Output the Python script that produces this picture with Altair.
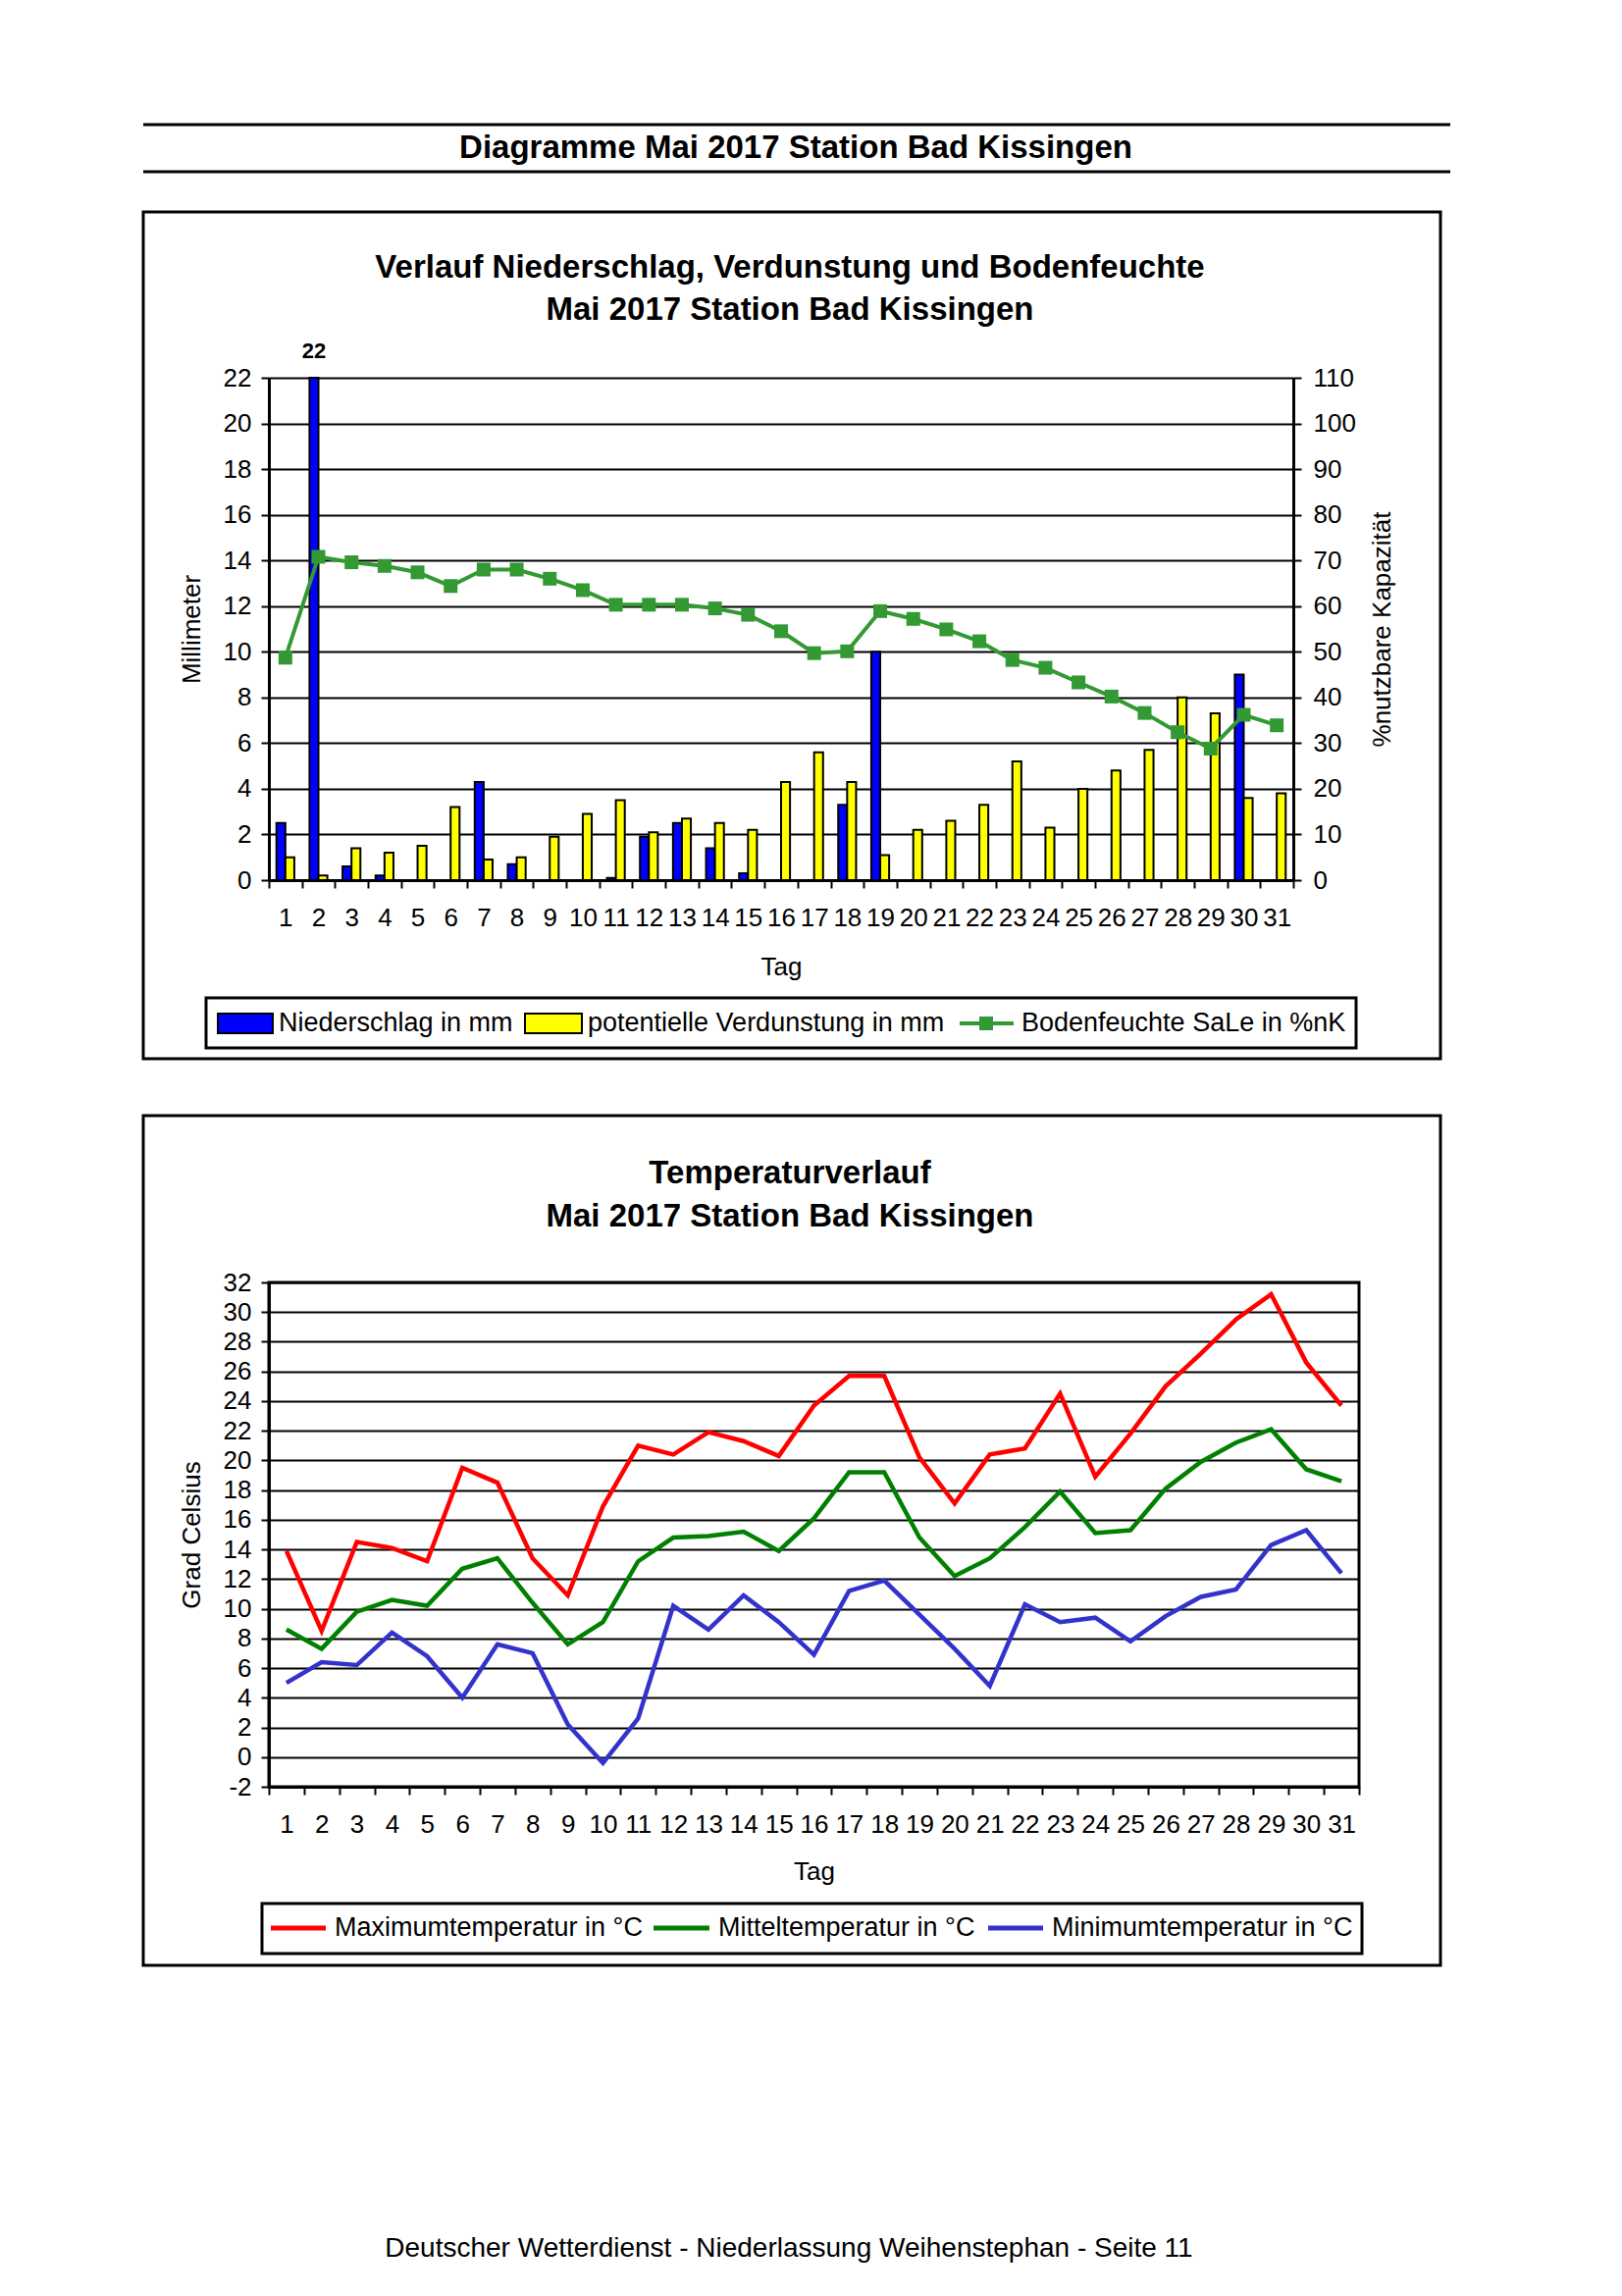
import altair as alt
import pandas as pd

FONT = "Liberation Sans"

# ---------------- data ----------------
days = list(range(1, 32))
niederschlag = [2.5, 22.0, 0.6, 0.2, 0.0, 0.0, 4.3, 0.7, 0.0, 0.0, 0.1, 1.9, 2.5, 1.4, 0.3, 0.0,
                0.0, 3.3, 10.0, 0.0, 0.0, 0.0, 0.0, 0.0, 0.0, 0.0, 0.0, 0.0, 0.0, 9.0, 0.0]
verdunstung = [1.0, 0.2, 1.4, 1.2, 1.5, 3.2, 0.9, 1.0, 1.9, 2.9, 3.5, 2.1, 2.7, 2.5, 2.2, 4.3,
               5.6, 4.3, 1.1, 2.2, 2.6, 3.3, 5.2, 2.3, 4.0, 4.8, 5.7, 8.0, 7.3, 3.6, 3.8]
bodenfeuchte = [48.7, 70.8, 69.6, 68.8, 67.4, 64.4, 68.0, 68.0, 66.0, 63.5, 60.3, 60.3, 60.3, 59.5,
                58.1, 54.5, 49.7, 50.1, 58.9, 57.2, 54.9, 52.3, 48.2, 46.5, 43.3, 40.2, 36.6, 32.4,
                28.8, 36.2, 33.9]

tmax = [13.9, 8.5, 14.5, 14.1, 13.2, 19.5, 18.5, 13.4, 10.9, 16.9, 21.0, 20.4, 21.9, 21.3, 20.3,
        23.7, 25.7, 25.7, 20.2, 17.1, 20.4, 20.8, 24.5, 18.9, 21.8, 25.0, 27.2, 29.5, 31.2, 26.6, 23.7]
tmit = [8.6, 7.3, 9.8, 10.6, 10.2, 12.7, 13.4, 10.4, 7.6, 9.1, 13.2, 14.8, 14.9, 15.2, 13.9,
        16.1, 19.2, 19.2, 14.8, 12.2, 13.4, 15.5, 17.9, 15.1, 15.3, 18.1, 19.9, 21.2, 22.1, 19.4, 18.6]
tmin = [5.0, 6.4, 6.2, 8.4, 6.8, 4.0, 7.6, 7.0, 2.2, -0.4, 2.6, 10.2, 8.6, 10.9, 9.1,
        6.9, 11.2, 11.9, 9.6, 7.3, 4.8, 10.3, 9.1, 9.4, 7.8, 9.5, 10.8, 11.3, 14.3, 15.3, 12.4]

bar_names = ["Niederschlag in mm", "potentielle Verdunstung in mm"]
soil_name = "Bodenfeuchte SaLe in %nK"
temp_names = ["Maximumtemperatur in °C", "Mitteltemperatur in °C", "Minimumtemperatur in °C"]

left_ticks1 = list(range(0, 23, 2))
right_ticks1 = list(range(0, 111, 10))
ticks2 = list(range(-2, 33, 2))

BLUE, YELLOW, GREEN = "#0000FF", "#FFFF00", "#339933"
TCOLORS = ["#FF0000", "#008000", "#3333CC"]

W1, H1 = 1044, 512
W2, H2 = 1111, 514
TS = 33   # title font size
LS = 27   # legend font size

bars_df = pd.DataFrame({"day": days * 2,
                        "series": [bar_names[0]] * 31 + [bar_names[1]] * 31,
                        "value": niederschlag + verdunstung})
soil_df = pd.DataFrame({"day": days, "value": bodenfeuchte})
peak_df = pd.DataFrame({"day": days, "series": [bar_names[0]] * 31, "value": niederschlag})
temp_df = pd.DataFrame({"day": days * 3,
                        "tseries": sum([[n] * 31 for n in temp_names], []),
                        "value": tmax + tmit + tmin})
one = pd.DataFrame({"k": [0]})


# ---------------- decoration helpers ----------------
def rule(xa, xb, y, color="black", w=3):
    return alt.Chart(one).mark_rule(color=color, strokeWidth=w).encode(
        x=alt.value(xa), x2=alt.value(xb), y=alt.value(y))


def frame(xa, xb, ya, yb, w=3):
    return alt.Chart(one).mark_rect(fillOpacity=0, stroke="black", strokeWidth=w).encode(
        x=alt.value(xa), x2=alt.value(xb), y=alt.value(ya), y2=alt.value(yb))


def swatch(xa, xb, ya, yb, fill):
    return alt.Chart(one).mark_rect(fill=fill, stroke="black", strokeWidth=2).encode(
        x=alt.value(xa), x2=alt.value(xb), y=alt.value(ya), y2=alt.value(yb))


def label(txt, x, y, size=26, weight="normal", align="center"):
    return alt.Chart(one).mark_text(text=txt, fontSize=size, fontWeight=weight, align=align,
                                    baseline="middle", font=FONT, color="black").encode(
        x=alt.value(x), y=alt.value(y))


def marker(x, y, color):
    return alt.Chart(one).mark_point(shape="square", size=196, filled=True, color=color,
                                     opacity=1).encode(x=alt.value(x), y=alt.value(y))


def x_axis(w, ty):
    return alt.Axis(title="Tag", tickBand="extent", labelAngle=0, labelFontSize=26,
                    labelPadding=17, labelColor="black", labelOverlap=False, tickSize=8,
                    tickWidth=2, tickColor="black", domainColor="black", domainWidth=3,
                    grid=False, titleFontSize=26, titleFontWeight="normal", titleColor="black",
                    titleX=w / 2, titleY=ty, titleBaseline="middle", titleAlign="center")


def y_axis(vals, title, orient, tx, h, lp):
    return alt.Axis(values=vals, orient=orient, grid=(orient == "left"), gridColor="black",
                    gridWidth=2, domainColor="black", domainWidth=3, tickColor="black",
                    tickWidth=2, tickSize=8, labelFontSize=26, labelColor="black",
                    labelExpr="'' + datum.value",
                    labelPadding=lp, title=title, titleFontSize=26, titleFontWeight="normal",
                    titleColor="black", titleX=tx, titleY=h / 2, titleAngle=270,
                    titleBaseline="middle", titleAlign="center")


# ---------------- panel 1 ----------------
x1 = alt.X("day:O", scale=alt.Scale(paddingInner=0, paddingOuter=0), axis=x_axis(W1, 88))
xoff = alt.XOffset("series:N", scale=alt.Scale(domain=bar_names, paddingInner=0, paddingOuter=0.85))

bars = alt.Chart(bars_df).mark_bar(stroke="black", strokeWidth=2).encode(
    x=x1,
    xOffset=xoff,
    y=alt.Y("value:Q", scale=alt.Scale(domain=[0, 22], nice=False),
            axis=y_axis(left_ticks1, "Millimeter", "left", -79, H1, 10)),
    color=alt.Color("series:N", scale=alt.Scale(domain=bar_names, range=[BLUE, YELLOW]), legend=None),
)

soil = alt.Chart(soil_df).mark_line(
    color=GREEN, strokeWidth=4,
    point=alt.OverlayMarkDef(shape="square", size=196, filled=True, color=GREEN, opacity=1)
).encode(
    x=x1,
    y=alt.Y("value:Q", scale=alt.Scale(domain=[0, 110], nice=False),
            axis=y_axis(right_ticks1, "%nutzbare Kapazität", "right", 90, H1, 12)),
)

peak = alt.Chart(peak_df).transform_filter("datum.value >= 22").mark_text(
    fontSize=22, fontWeight="bold", font=FONT, color="black", baseline="middle"
).encode(x=x1, xOffset=xoff, y=alt.value(-27), text=alt.Text("value:Q", format=".0f"))

decor1 = [
    rule(-128, 1204, -258),
    label("Diagramme Mai 2017 Station Bad Kissingen", 537, -234, TS, "bold"),
    rule(-128, 1204, -210),
    frame(-128, 1194, -169, 694),
    label("Verlauf Niederschlag, Verdunstung und Bodenfeuchte", 531, -112, TS, "bold"),
    label("Mai 2017 Station Bad Kissingen", 531, -69, TS, "bold"),
    frame(-64, 1108, 632, 683),
    swatch(-52, 4, 648, 668, BLUE),
    label(bar_names[0], 10, 658, LS, align="left"),
    swatch(261, 319, 648, 668, YELLOW),
    label(bar_names[1], 325, 658, LS, align="left"),
    rule(704, 759, 658, GREEN, 4),
    marker(731, 658, GREEN),
    label(soil_name, 767, 658, LS, align="left"),
]

panel1 = alt.layer(bars, soil, peak, *decor1).resolve_scale(y="independent").properties(
    width=W1, height=H1, view=alt.ViewBackground(strokeOpacity=0))

# ---------------- panel 2 ----------------
x2 = alt.X("day:O", scale=alt.Scale(paddingInner=0, paddingOuter=0), axis=x_axis(W2, 86))

temps = alt.Chart(temp_df).mark_line(strokeWidth=4.5).encode(
    x=x2,
    y=alt.Y("value:Q", scale=alt.Scale(domain=[-2, 32], nice=False),
            axis=y_axis(ticks2, "Grad Celsius", "left", -79, H2, 10)),
    color=alt.Color("tseries:N", scale=alt.Scale(domain=temp_names, range=TCOLORS), legend=None),
)

decor2 = [
    frame(-128, 1194, -170, 696),
    label("Temperaturverlauf", 531, -111, TS, "bold"),
    label("Mai 2017 Station Bad Kissingen", 531, -67, TS, "bold"),
    frame(-7, 1114, 633, 684),
    rule(2, 58, 658, TCOLORS[0], 5),
    label(temp_names[0], 67, 658, LS, align="left"),
    rule(392, 449, 658, TCOLORS[1], 5),
    label(temp_names[1], 458, 658, LS, align="left"),
    rule(733, 789, 658, TCOLORS[2], 5),
    label(temp_names[2], 798, 658, LS, align="left"),
    label("Deutscher Wetterdienst - Niederlassung Weihenstephan - Seite 11", 530, 985, 28),
]

panel2 = alt.layer(temps, *decor2).properties(
    width=W2, height=H2, view=alt.ViewBackground(stroke="black", strokeWidth=3))

chart = alt.vconcat(panel1, panel2, spacing=53).resolve_scale(
    x="independent", y="independent", color="independent"
).properties(
    padding={"left": 135, "top": 117, "right": 5, "bottom": 5}
).configure(font=FONT)

chart.save("out.html", embed_options={"renderer": "svg", "actions": False})
